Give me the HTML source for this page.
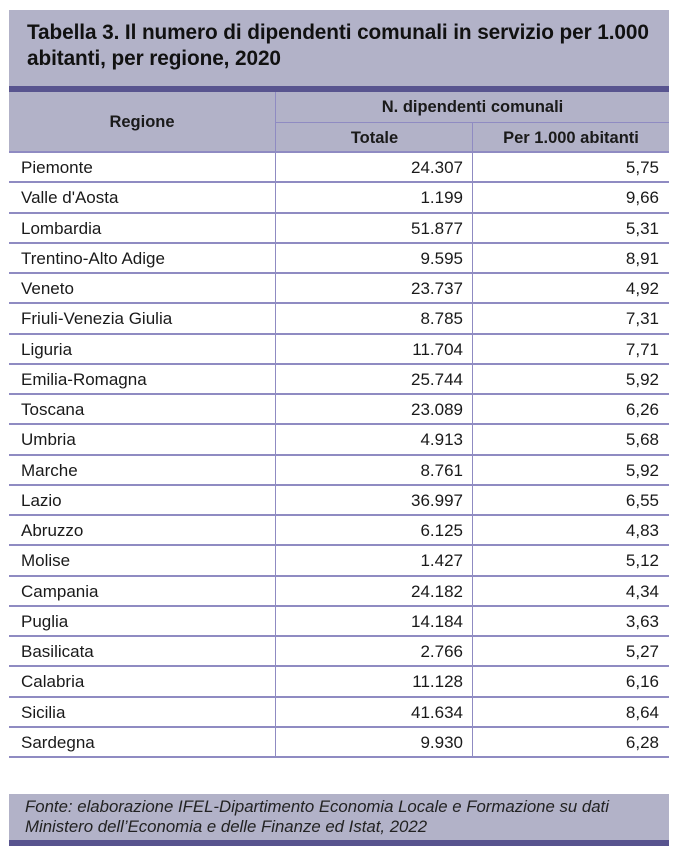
<!DOCTYPE html>
<html><head><meta charset="utf-8"><style>
body{margin:0;width:676px;height:854px;background:#fff;position:relative;font-family:"Liberation Sans",sans-serif;color:#1a1a1a;overflow:hidden}
.a{position:absolute}
.t{left:9px;top:10px;width:660px;height:76px;background:#b2b2c8}
.t div{position:absolute;left:18px;top:10px;font-weight:bold;font-size:20.8px;line-height:26px;color:#111;letter-spacing:-0.1px}
.bar{left:9px;width:660px;height:6px;background:#58548f}
.hd{left:9px;top:92px;width:660px;height:60px;background:#b2b2c8}
.hl{background:#8f8bc2}
.row{position:absolute;left:9px;width:660px;height:30px;font-size:17px}
.row span{position:absolute;top:6px}
.h{font-weight:bold;font-size:16.5px}
</style></head><body>
<div class="a t"><div>Tabella 3. Il numero di dipendenti comunali in servizio per 1.000<br>abitanti, per regione, 2020</div></div>
<div class="a bar" style="top:86px"></div>
<div class="a hd"></div>
<div class="a h" style="left:9px;width:266px;top:113px;text-align:center">Regione</div>
<div class="a h" style="left:276px;width:393px;top:98px;text-align:center">N. dipendenti comunali</div>
<div class="a h" style="left:276px;width:197px;top:129px;text-align:center">Totale</div>
<div class="a h" style="left:473px;width:196px;top:129px;text-align:center">Per 1.000 abitanti</div>
<div class="a hl" style="left:276px;top:122px;width:393px;height:1px"></div>
<div class="a hl" style="left:9px;top:151px;width:660px;height:2px"></div>
<div class="a hl" style="left:275px;top:92px;width:1px;height:665px"></div>
<div class="a hl" style="left:472px;top:122px;width:1px;height:635px"></div>
<div id="rows"></div>
<div class="a" style="left:9px;top:794px;width:660px;height:46px;background:#b2b2c8"></div>
<div class="a" style="left:25px;top:797px;font-size:16.8px;line-height:20px;font-style:italic;color:#222">Fonte: elaborazione IFEL-Dipartimento Economia Locale e Formazione su dati<br>Ministero dell’Economia e delle Finanze ed Istat, 2022</div>
<div class="a bar" style="top:840px"></div>
<script>
var d=[["Piemonte","24.307","5,75"],["Valle d'Aosta","1.199","9,66"],["Lombardia","51.877","5,31"],["Trentino-Alto Adige","9.595","8,91"],["Veneto","23.737","4,92"],["Friuli-Venezia Giulia","8.785","7,31"],["Liguria","11.704","7,71"],["Emilia-Romagna","25.744","5,92"],["Toscana","23.089","6,26"],["Umbria","4.913","5,68"],["Marche","8.761","5,92"],["Lazio","36.997","6,55"],["Abruzzo","6.125","4,83"],["Molise","1.427","5,12"],["Campania","24.182","4,34"],["Puglia","14.184","3,63"],["Basilicata","2.766","5,27"],["Calabria","11.128","6,16"],["Sicilia","41.634","8,64"],["Sardegna","9.930","6,28"]];
var h="";for(var i=0;i<d.length;i++){var y=Math.round(152+i*30.25);var y2=Math.round(152+(i+1)*30.25);
h+='<div class="row" style="top:'+y+'px"><span style="left:12px">'+d[i][0]+'</span><span style="right:206px">'+d[i][1]+'</span><span style="right:10px">'+d[i][2]+'</span></div>';
h+='<div class="a hl" style="left:9px;top:'+(y2-1)+'px;width:660px;height:2px"></div>';}
document.getElementById("rows").innerHTML=h;
</script>
</body></html>
